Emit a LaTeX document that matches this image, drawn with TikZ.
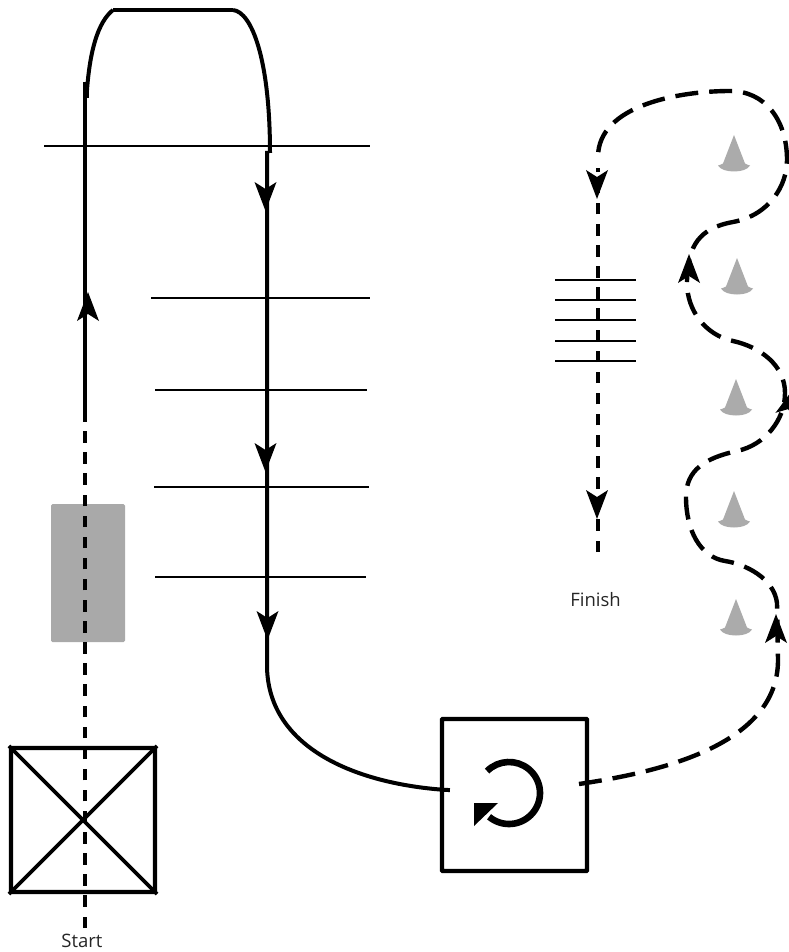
\documentclass[tikz,border=0pt]{standalone}
\usepackage{fontspec}
\setmainfont{Open Sans}
\usetikzlibrary{calc}
\definecolor{conegray}{HTML}{ABABAB}
\definecolor{padgray}{HTML}{A9A9A9}
\tikzset{
  course/.style={line width=4pt,draw=black},
  thickcourse/.style={line width=4.8pt,draw=black},
  coursedash/.style={line width=4.4pt,draw=black,dash pattern=on 23pt off 11pt},
  straightdash/.style={line width=4.6pt,draw=black,dash pattern=on 11.5pt off 9.6pt},
  rule/.style={line width=2pt,draw=black},
  finishrule/.style={line width=2.8pt,draw=black},
  boxframe/.style={draw=black,line width=4.2pt,minimum width=#1,minimum height=#1,inner sep=0pt,rounded corners=0.6pt},
  label/.style={font=\fontsize{18.5}{21}\selectfont,text=black!85,inner sep=0pt},
  headmark/.pic={\fill[black] (0,0) -- (11,29) -- (0,22) -- (-11,29) -- cycle;},
  conemark/.pic={\fill[conegray] (0,0) -- (11,28.5) .. controls (12.5,29.5) and (14.5,30) .. (16,30.5)
     .. controls (12,38.5) and (-12,38.5) .. (-16,30.5) .. controls (-14.5,30) and (-12.5,29.5) .. (-11,28.5) -- cycle;}
}
\begin{document}
\begin{tikzpicture}[x=1pt,y=-1pt]
\useasboundingbox (0,0) rectangle (788,952);
% rules
\foreach \n/\a/\b/\y in {r1/44/370/146,r2/151/370/298,r3/155/367/390,r4/154/369/487,r5/155/366/577}{
  \coordinate (\n a) at (\a,\y); \coordinate (\n b) at (\b,\y);
  \draw[rule] (\n a) -- (\n b);
}
% pad
\node[fill=padgray,minimum width=74pt,minimum height=138pt,inner sep=0pt,rounded corners=1.5pt] (pad) at (88,573) {};
% boxes
\node[boxframe=144pt] (startbox) at (83,820) {};
\draw[line width=3.8pt] (startbox.north west) -- (startbox.south east);
\draw[line width=3.8pt] (startbox.north east) -- (startbox.south west);
\node[minimum width=145pt,minimum height=152pt,draw=black,line width=4.2pt,inner sep=0pt,rounded corners=0.6pt] (spinbox) at (514.5,795) {};
% spin symbol
\coordinate (spincentre) at (509,793);
\draw[line width=6.6pt] ($(spincentre)+(130:31)$) arc[start angle=-130,end angle=135,radius=31,y radius=-31] ;
\fill[black] (474,803) -- (498,803) -- (474,826) -- cycle;
% left leg
\coordinate (s0) at (85,928);
\coordinate (s1) at (85,420);
\coordinate (s3) at (85,82);
\coordinate (s4) at (86.5,98);
\coordinate (t1) at (113,10);
\coordinate (t2) at (233,10);
\coordinate (t3) at (270,153);
\coordinate (d0) at (267,151);
\coordinate (d1) at (267,665);
\draw[straightdash] (s0) -- (s1);
\draw[course] (s1) -- (s3);
\draw[thickcourse] (86.5,82) -- (s4);
\draw[course] (87,90) .. controls (90,50) and (98,22) .. (t1);
\draw[line width=4.4pt] (t1) -- (t2);
\draw[course] (t2) .. controls (252,12) and (270,60) .. (t3);
\draw[course] (d0) -- (d1) .. controls (267,745) and (350,782) .. (spinbox.west|-0,789.5) -- ++(10,0.6);
\pic at (88,292) {headmark};
\pic[rotate=180] at (265.5,211) {headmark};
\pic[rotate=180] at (265.5,472) {headmark};
\pic[rotate=180] at (267.5,640) {headmark};
% return dashed curve
\coordinate (c0) at (579,784);
\coordinate (c1) at (598,157);
\draw[coursedash] (c0) .. controls (660,772) and (778,745) .. (778,660) -- (777,603)
  .. controls (774,578) and (745,564) .. (725,561)
  .. controls (700,557) and (686,530) .. (686,497)
  .. controls (686,470) and (705,458) .. (737,451)
  .. controls (765,445) and (785,420) .. (785,393)
  .. controls (785,365) and (760,347) .. (733,341)
  .. controls (705,335) and (687,310) .. (687,283)
  .. controls (687,245) and (700,228) .. (733,222)
  .. controls (770,215) and (787,185) .. (787,160)
  .. controls (787,120) and (765,91) .. (730,91)
  .. controls (680,91) and (598,105) .. (c1);
% finish leg
\coordinate (f0) at (598,552);
\coordinate (f1) at (598,168);
\draw[straightdash] (f0) -- (f1);
\foreach \y in {280,300,320,341,361}{\draw[finishrule] (555,\y) -- (636,\y);}
\pic[rotate=180] at (597,199) {headmark};
\pic[rotate=180] at (597,519) {headmark};
\pic at (689,254) {headmark};
\pic[rotate=-16] at (794,388) {headmark};
\pic at (776,614) {headmark};
% cones
\pic at (734,135) {conemark};
\pic at (737,258) {conemark};
\pic at (736,379) {conemark};
\pic at (734,491) {conemark};
\pic at (736,599) {conemark};
% labels
\node[label] (startlabel) at (82,941) {Start};
\node[label] (finishlabel) at (595.5,600) {Finish};
\end{tikzpicture}
\end{document}
